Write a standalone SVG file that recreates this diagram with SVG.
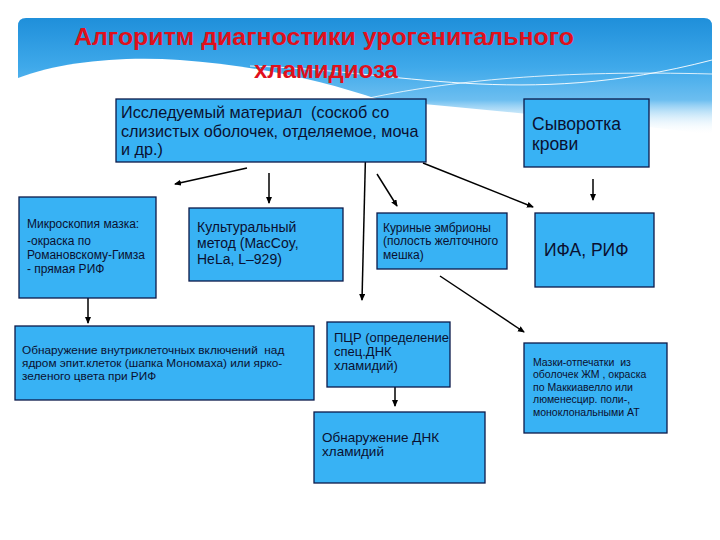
<svg xmlns="http://www.w3.org/2000/svg" width="720" height="540" viewBox="0 0 720 540">
<defs>
<linearGradient id="hdr" x1="0" y1="0" x2="0" y2="1">
<stop offset="0" stop-color="#1F8FDA"/>
<stop offset="0.6" stop-color="#3FA9EA"/>
<stop offset="1" stop-color="#6CBEF0"/>
</linearGradient>
<linearGradient id="fade" x1="0" y1="0" x2="0" y2="1">
<stop offset="0" stop-color="#6CBEF0" stop-opacity="1"/>
<stop offset="1" stop-color="#ffffff" stop-opacity="0"/>
</linearGradient>
<marker id="ah" markerWidth="8" markerHeight="8" refX="6" refY="3" orient="auto" markerUnits="userSpaceOnUse">
<path d="M0,0 L7,3 L0,6 Z" fill="#000"/>
</marker>
<style>
.box{fill:#38B2F4;stroke:#0B1A4A;stroke-width:1.3}
.t{font-family:"Liberation Sans",Arial,sans-serif;fill:#0A1030}
.title{font-family:"Liberation Sans",Arial,sans-serif;font-weight:bold;fill:#E0101C}
.c{stroke:#000;stroke-width:1.5;fill:none;marker-end:url(#ah)}
</style>
</defs>
<rect width="720" height="540" fill="#ffffff"/>
<g id="header">
<path d="M26,18 H704 Q712,18 712,26 V100 H18 V26 Q18,18 26,18 Z" fill="url(#hdr)"/>
<path d="M380,100 H712 V135 Q600,120 380,100 Z" fill="url(#fade)"/>
<path d="M18,78 C60,62 120,56 180,60 C260,66 320,80 380,100 L18,100 Z" fill="#ffffff"/>
<path d="M250,66 C400,70 520,110 712,60" stroke="#ffffff" stroke-width="1" fill="none" opacity="0.9"/>
<path d="M360,100 C450,80 560,70 712,74" stroke="#ffffff" stroke-width="1" fill="none" opacity="0.8"/>
<text class="title" x="74" y="45" font-size="24" textLength="500" lengthAdjust="spacingAndGlyphs">Алгоритм диагностики урогенитального</text>
<text class="title" x="254" y="78" font-size="24" textLength="144" lengthAdjust="spacingAndGlyphs">хламидиоза</text>
</g>
<g id="connectors">
<line class="c" x1="247" y1="168" x2="175" y2="184"/>
<line class="c" x1="269" y1="173" x2="269" y2="203"/>
<line class="c" x1="366" y1="135" x2="362" y2="300"/>
<line class="c" x1="377" y1="174" x2="397" y2="206"/>
<line class="c" x1="423" y1="163" x2="533" y2="207"/>
<line class="c" x1="593" y1="179" x2="593" y2="200"/>
<line class="c" x1="88" y1="293" x2="88" y2="323"/>
<line class="c" x1="440" y1="276" x2="524" y2="332"/>
<line class="c" x1="395" y1="378" x2="395" y2="406"/>
</g>
<g id="n1"><rect class="box" x="116" y="99" width="310" height="63"/>
<text class="t" font-size="16.2" xml:space="preserve"><tspan x="121" y="118">Исследуемый материал  (соскоб со</tspan><tspan x="121" y="137">слизистых оболочек, отделяемое, моча</tspan><tspan x="121" y="155">и др.)</tspan></text></g>
<g id="n2"><rect class="box" x="524" y="99" width="125" height="68"/>
<text class="t" font-size="17.5"><tspan x="532" y="130">Сыворотка</tspan><tspan x="532" y="150">крови</tspan></text></g>
<g id="n3"><rect class="box" x="19" y="197" width="137" height="101"/>
<text class="t" font-size="12"><tspan x="27" y="228">Микроскопия мазка:</tspan><tspan x="27" y="245">-окраска по</tspan><tspan x="27" y="259">Романовскому-Гимза</tspan><tspan x="27" y="273">- прямая РИФ</tspan></text></g>
<g id="n4"><rect class="box" x="189" y="208" width="154" height="73"/>
<text class="t" font-size="14"><tspan x="197" y="232">Культуральный</tspan><tspan x="197" y="248">метод (MacCoy,</tspan><tspan x="197" y="264">HeLa, L–929)</tspan></text></g>
<g id="n5"><rect class="box" x="377" y="213" width="130" height="56"/>
<text class="t" font-size="12"><tspan x="383" y="232">Куриные эмбрионы</tspan><tspan x="383" y="245">(полость желточного</tspan><tspan x="383" y="259">мешка)</tspan></text></g>
<g id="n6"><rect class="box" x="535" y="213" width="119" height="74"/>
<text class="t" font-size="17.5" x="544" y="256">ИФА, РИФ</text></g>
<g id="n7"><rect class="box" x="15" y="326" width="299" height="74"/>
<text class="t" font-size="11.8" xml:space="preserve"><tspan x="22" y="354">Обнаружение внутриклеточных включений  над</tspan><tspan x="22" y="367">ядром эпит.клеток (шапка Мономаха) или ярко-</tspan><tspan x="22" y="380">зеленого цвета при РИФ</tspan></text></g>
<g id="n8"><rect class="box" x="327" y="322" width="123" height="65"/>
<text class="t" font-size="13"><tspan x="334" y="342">ПЦР (определение</tspan><tspan x="334" y="356">спец.ДНК</tspan><tspan x="334" y="370">хламидий)</tspan></text></g>
<g id="n9"><rect class="box" x="524" y="343" width="143" height="90"/>
<text class="t" font-size="10.5" xml:space="preserve"><tspan x="533" y="366">Мазки-отпечатки  из</tspan><tspan x="533" y="378">оболочек ЖМ , окраска</tspan><tspan x="533" y="391">по Маккиавелло или</tspan><tspan x="533" y="403">люменесцир. поли-,</tspan><tspan x="533" y="416">моноклональными АТ</tspan></text></g>
<g id="n10"><rect class="box" x="314" y="412" width="171" height="71"/>
<text class="t" font-size="13.5"><tspan x="322" y="442">Обнаружение ДНК</tspan><tspan x="322" y="456">хламидий</tspan></text></g>
</svg>
